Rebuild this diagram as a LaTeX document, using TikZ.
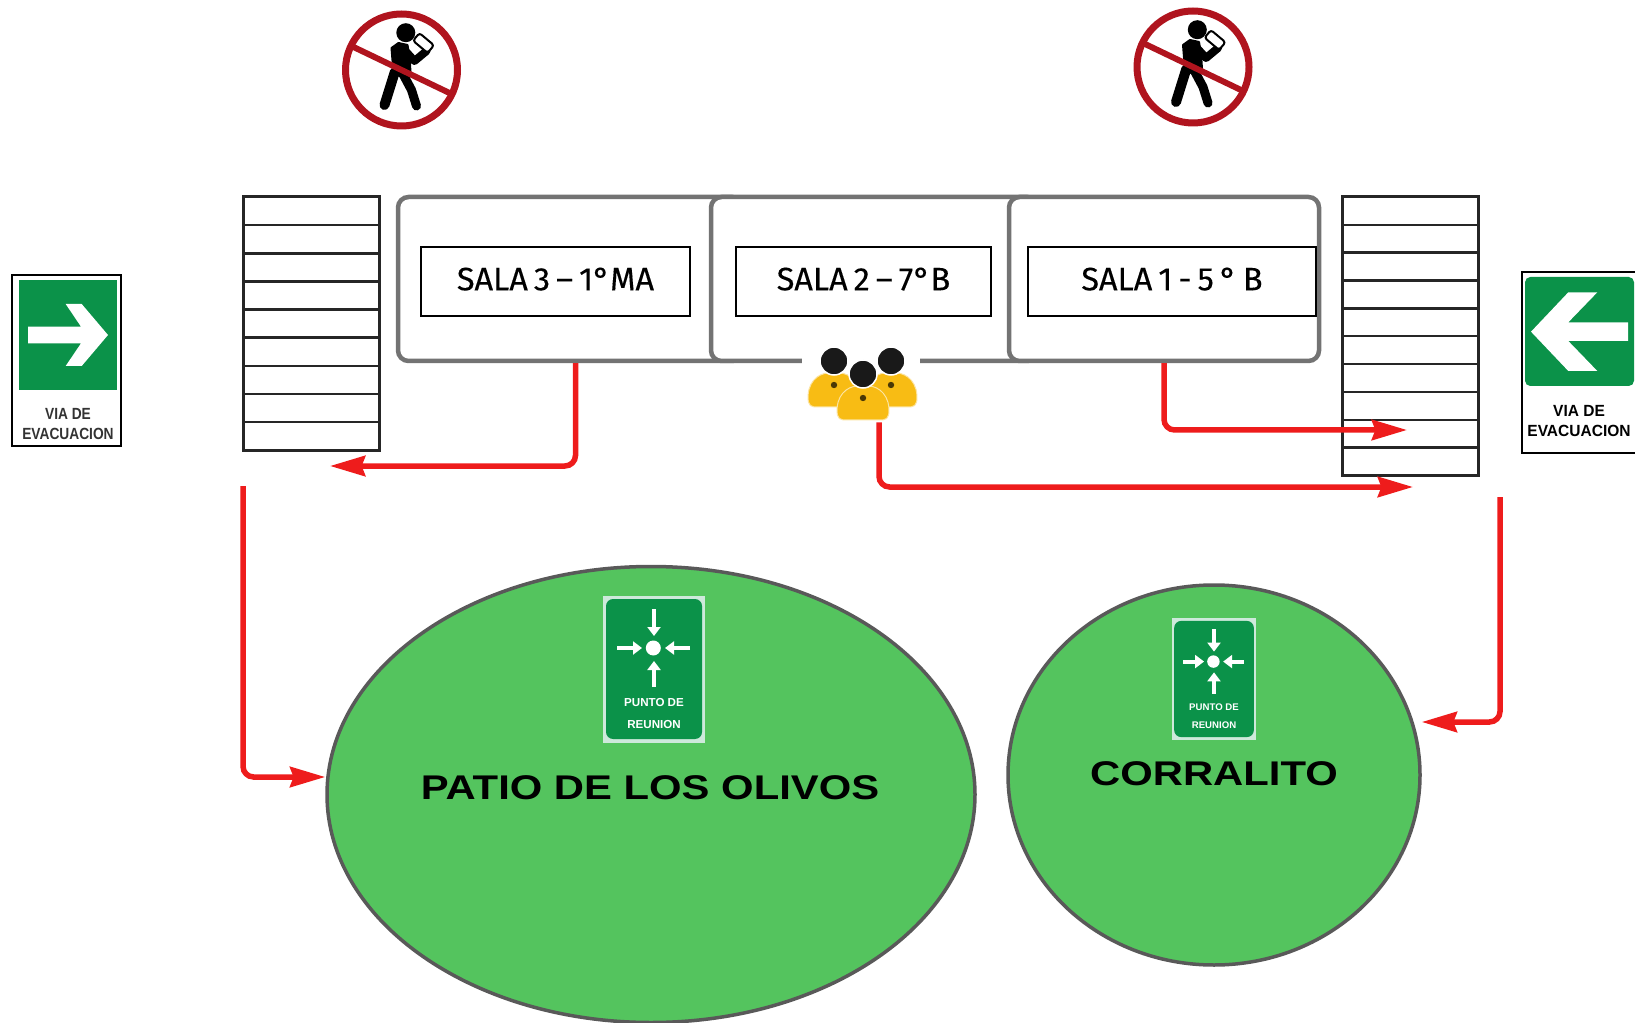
\documentclass[tikz,border=0pt]{standalone}
\usepackage{fontspec}
\setmainfont{Liberation Sans}
\newfontfamily\salafont[WordSpace=0.7,FakeBold=0.2]{Fira Sans}
\usetikzlibrary{arrows.meta,shapes.geometric}
\definecolor{verdepatio}{HTML}{54C45E}
\definecolor{verdesenal}{HTML}{0B9249}
\definecolor{rojoflecha}{HTML}{EE1C1C}
\definecolor{rojoprohibido}{HTML}{B0141E}
\definecolor{amarillo}{HTML}{F8BC14}
\def\px{0.02cm}

\tikzset{
  nolectura/.pic={
    \fill[black] (4.3,-37.3) circle (9.5);
    \fill[black,draw=black,line width=2*\px,line join=round] (-10,-22) -- (-3,-27) -- (6,-25) -- (8,-13) -- (9,2) -- (2,8) -- (-8,3) -- cycle;
    \draw[black,line width=10*\px,line cap=round,line join=round] (-6.7,2) -- (-17,35);
    \draw[black,line width=9*\px,line cap=round,line join=round] (2,5) -- (10,20) -- (15,36);
    \draw[black,line width=8*\px,line cap=round,line join=round] (3,-20) -- (13,-9) -- (25,-19);
    \draw[black,fill=white,line width=2*\px,rounded corners=1.5,rotate around={-40:(22,-27)}]
      (12.5,-32) rectangle (31.5,-22);
    \draw[rojoprohibido,line width=6*\px] (-48,-23) -- (48,23);
    \draw[rojoprohibido,line width=7*\px] (0,0) circle (56);
  },
  alumno/.pic={
    \fill[amarillo,draw=white!60!amarillo,line width=1*\px,rounded corners=3] (-25,46) .. controls (-28,22) and (-16,12) .. (0,12)
      .. controls (16,12) and (28,22) .. (25,46) -- cycle;
    \fill[black!70!amarillo] (0,24) circle (3.2);
    \draw[white,fill=black!90,line width=1.5*\px] (0,0) circle (14);
  },
  puntosenal/.pic={
    \fill[white!80!verdesenal] (-51,-73.5) rectangle (51,73.5);
    \fill[verdesenal,rounded corners=4] (-48,-70) rectangle (48,70);
    \fill[white] (-0.7,-21) circle (7.5);
    \draw[-{Triangle[length=9*\px,width=13*\px]},white,line width=4*\px] (0,-60) -- (0,-33);
    \draw[-{Triangle[length=9*\px,width=13*\px]},white,line width=4*\px] (0,18) -- (0,-8);
    \draw[-{Triangle[length=9*\px,width=13*\px]},white,line width=4*\px] (-37,-21) -- (-12,-21);
    \draw[-{Triangle[length=9*\px,width=13*\px]},white,line width=4*\px] (36,-21) -- (11,-21);
    \node[text=white,font=\bfseries\fontsize{6.6}{8}\selectfont,inner sep=0pt,transform shape] (-punto) at (0,34) {PUNTO DE};
    \node[text=white,font=\bfseries\fontsize{6.6}{8}\selectfont,inner sep=0pt,transform shape] (-reunion) at (0,56) {REUNION};
  },
}

\begin{document}
\begin{tikzpicture}[x=\px,y=-\px,>={Stealth[length=20pt,width=11.5pt,inset=2pt]}]
  \tikzstyle{sala}=[draw=black!55,fill=white,line width=4.5*\px,rounded corners=6pt,
    minimum height=164*\px,inner sep=0pt]
  \tikzstyle{cartel}=[draw=black,fill=white,line width=2*\px,minimum height=69*\px,
    inner sep=0pt,text depth=3.5pt,font=\salafont\fontsize{18.5}{22}\selectfont]
  \tikzstyle{escalera}=[draw=black!85,line width=3*\px,minimum width=136*\px,inner sep=0pt]
  \tikzstyle{patio}=[ellipse,draw=black!65,fill=verdepatio,line width=3.5*\px,inner sep=0pt]
  \tikzstyle{titulo}=[inner sep=0pt,xscale=1.22,font=\bfseries\fontsize{19.5}{22}\selectfont,text=black]
  \tikzstyle{evac}=[->,draw=rojoflecha,line width=5.5*\px,rounded corners=6pt]
  \tikzstyle{via}=[inner sep=0pt,align=center,font=\bfseries\fontsize{9.2}{11.2}\selectfont]

  \useasboundingbox (0,0) rectangle (1635,1023);

  % salas
  \node[sala,minimum width=345*\px] (sala3) at (570.5,279) {};
  \node[sala,minimum width=327*\px] (sala2) at (874.5,279) {};
  \node[sala,minimum width=310*\px] (sala1) at (1164,279) {};
  \node[cartel,minimum width=269*\px] (cartel3) at (555.5,282) {SALA 3 – 1°MA};
  \node[cartel,minimum width=255*\px] (cartel2) at (863.5,282) {SALA 2 – 7°B};
  \node[cartel,minimum width=288*\px] (cartel1) at (1172,282) {SALA 1 - 5 ° B};

  % escaleras
  \node[escalera,minimum height=253.5*\px] (esc1) at (311,323.75) {};
  \node[escalera,minimum height=278.5*\px] (esc2) at (1410,336.25) {};
  \foreach \i in {1,...,8}
    \draw[black!85,line width=2.5*\px] (243,197+28.15*\i) -- (379,197+28.15*\i);
  \foreach \i in {1,...,9}
    \draw[black!85,line width=2.5*\px] (1342,197+27.85*\i) -- (1478,197+27.85*\i);

  % alumnos
  \node[fill=white,minimum width=118*\px,minimum height=80*\px,inner sep=0pt] (gente) at (861,382) {};
  \pic (alumnoA) at (834,361) {alumno};
  \pic (alumnoB) at (891,361) {alumno};
  \pic (alumnoC) at (863,374) {alumno};

  % zonas de seguridad
  \node[patio,minimum width=648*\px,minimum height=456*\px] (olivos) at (651,794.5) {};
  \node[patio,minimum width=412*\px,minimum height=380*\px] (corralito) at (1214,775) {};
  \node[titulo] (tituloA) at (650,788) {PATIO DE LOS OLIVOS};
  \node[titulo] (tituloB) at (1214,774) {CORRALITO};
  \pic (puntoA) at (654,669) {puntosenal};
  \pic[scale=0.83,transform shape] (puntoB) at (1214,679) {puntosenal};

  % prohibido
  \pic (noA) at (401.5,70) {nolectura};
  \pic (noB) at (1193,67) {nolectura};

  % via de evacuacion
  \node[draw=black,fill=white,line width=1.6*\px,minimum width=109*\px,minimum height=171*\px,inner sep=0pt] (viaA) at (66.5,360.5) {};
  \node[fill=verdesenal,minimum width=98*\px,minimum height=110*\px,inner sep=0pt] (verdeA) at (68,335) {};
  \fill[white] (28,326.7) -- (81,326.7) -- (65.7,304) -- (81.7,304) -- (108,335) -- (81.7,366) -- (65.7,366) -- (81,343.3) -- (28,343.3) -- cycle;
  \node[via,xscale=0.85,text=black!80] (textoA) at (68,424) {VIA DE\\EVACUACION};
  \node[draw=black,fill=white,line width=1.6*\px,minimum width=120*\px,minimum height=181*\px,inner sep=0pt] (viaB) at (1582,362.5) {};
  \node[fill=verdesenal,rounded corners=3pt,minimum width=109*\px,minimum height=109*\px,inner sep=0pt] (verdeB) at (1579.5,331.5) {};
  \fill[white] (1628,322.3) -- (1568.3,322.3) -- (1597.3,292.3) -- (1568.3,292.3) -- (1531,331.7) -- (1568.3,371) -- (1597.3,371) -- (1568.3,341) -- (1628,341) -- cycle;
  \node[via,xscale=0.96] (textoB) at (1579,421) {VIA DE\\EVACUACION};

  % recorridos
  \coordinate (giro3) at (575.5,466);
  \coordinate (fin3) at (330,466);
  \coordinate (giro1) at (1164,430);
  \coordinate (fin1) at (1407,430);
  \coordinate (giro2) at (879,487);
  \coordinate (fin2) at (1413,487);
  \coordinate (iniA) at (243,486);
  \coordinate (giroA) at (243,777);
  \coordinate (iniB) at (1500,497);
  \coordinate (giroB) at (1500,722);

  \draw[evac] (sala3.south -| giro3) -- (giro3) -- (fin3);
  \draw[evac] (sala1.south -| giro1) -- (giro1) -- (fin1);
  \draw[evac] (gente.south -| giro2) -- (giro2) -- (fin2);
  \draw[evac] (iniA) -- (giroA) -- (giroA -| olivos.west);
  \draw[evac] (iniB) -- (giroB) -- (corralito.east |- giroB);
\end{tikzpicture}
\end{document}
